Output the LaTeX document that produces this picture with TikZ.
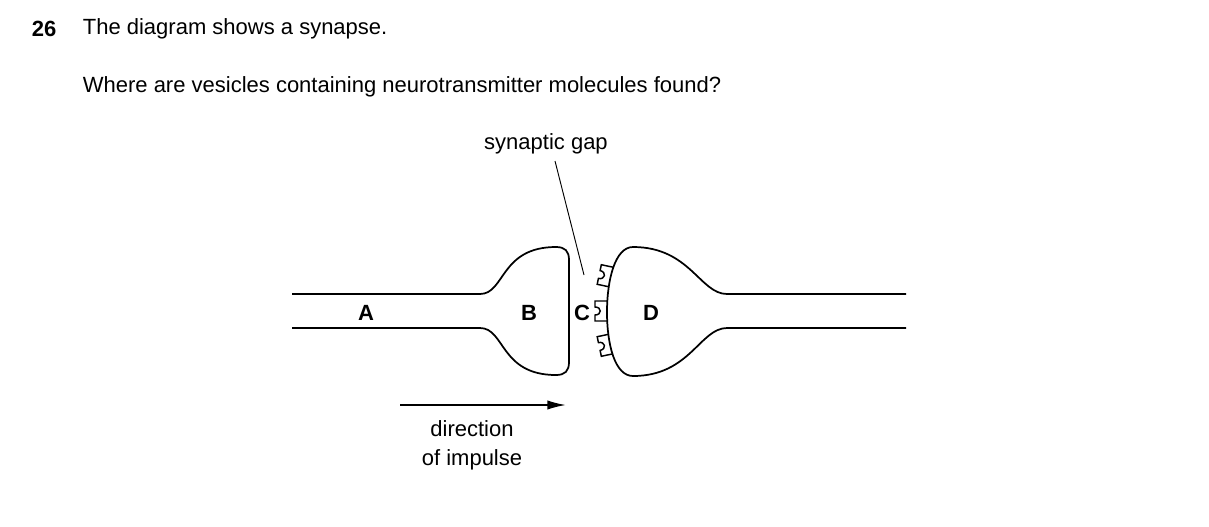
\documentclass[tikz,border=0pt]{standalone}
\usepackage{fontspec}
\setmainfont{Liberation Sans}
\usetikzlibrary{arrows.meta}
\begin{document}
\begin{tikzpicture}[x=0.75pt,y=-0.75pt,line width=1.3pt,
  txt/.style={font=\fontsize{16.5}{20}\selectfont,inner sep=0pt},
  lbl/.style={font=\fontsize{16.5}{20}\selectfont\bfseries,inner sep=0pt},
  rec/.style={line width=1.1pt}]
\useasboundingbox (0,0) rectangle (1209,526);
\node[lbl,anchor=west] (num) at (31,29) {26};
\node[txt,anchor=west] (q1) at (82,29) {The diagram shows a synapse.};
\node[txt,anchor=west] (q2) at (82,87) {Where are vesicles containing neurotransmitter molecules found?};
\node[txt] (sg) at (546,144) {synaptic gap};
\coordinate (sgend) at (584,275);
\draw[line width=0.7pt] (555,161) -- (sgend);
% B side
\draw (292,294) -- (480,294) .. controls (505,294) and (500,247) .. (556,247)
  .. controls (565,247) and (569,251) .. (569,260) -- (569,362)
  .. controls (569,371) and (565,375) .. (556,375)
  .. controls (500,375) and (505,328) .. (480,328) -- (292,328);
% D side
\draw (906,294) -- (727,294) .. controls (700,294) and (690,247) .. (633,247)
  .. controls (615,247) and (607,280) .. (607,312)
  .. controls (607,345) and (615,376) .. (633,376)
  .. controls (690,376) and (700,328) .. (727,328) -- (906,328);
% receptors
\foreach \px/\py/\r in {611/277/-12, 607/311/0, 611/344/12}{
  \draw[rec,shift={(\px,\py)},rotate=\r] (0,-10) -- (-12,-10) -- (-12,-4)
    .. controls (-5,-4) and (-5,4) .. (-12,4) -- (-12,10) -- (0,10);
}
\node[lbl] (A) at (366,313) {A};
\node[lbl] (B) at (529,313) {B};
\node[lbl] (C) at (582,313) {C};
\node[lbl] (D) at (651,313) {D};
\coordinate (ar1) at (400,405);
\coordinate (ar2) at (566,405);
\draw[line width=1.3pt,-{Latex[length=14pt,width=7pt]}] (ar1) -- (ar2);
\node[txt] (d1) at (472,429) {direction};
\node[txt] (d2) at (472,460) {of impulse};
\end{tikzpicture}
\end{document}
